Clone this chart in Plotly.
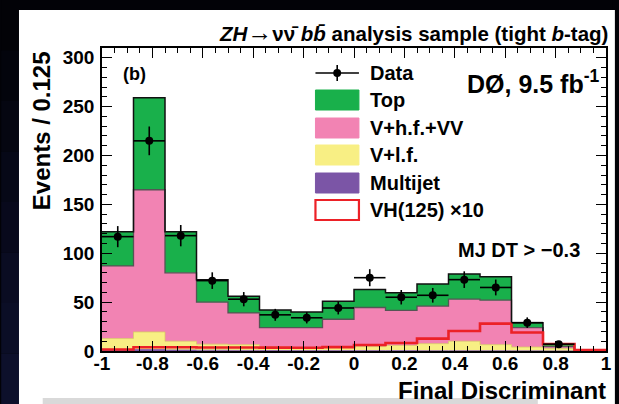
import numpy as np
import plotly.graph_objects as go

# ---- histogram content (events per 0.125 bin of the final discriminant) ----
bin_edges = [-1.0, -0.875, -0.75, -0.625, -0.5, -0.375, -0.25, -0.125, 0.0,
             0.125, 0.25, 0.375, 0.5, 0.625, 0.75, 0.875, 1.0]

multijet = [1.0, 1.5, 1.0, 0.8, 0.6, 0.5, 0.4, 0.4, 0.4, 0.4, 0.3, 0.3, 0.3, 0.2, 0.1, 0.0]
v_lf     = [11.7, 18.0, 9.0, 6.2, 5.9, 3.5, 3.1, 3.1, 4.1, 5.3, 7.2, 9.7, 6.2, 3.8, 2.4, 0.0]
v_hf_vv  = [74.3, 145.5, 70.0, 43.0, 32.5, 20.0, 20.5, 29.0, 40.0, 35.8, 38.5, 43.0, 45.5, 20.0, 2.0, 0.0]
top      = [35.0, 94.0, 42.0, 23.0, 17.0, 18.0, 15.9, 18.5, 18.5, 18.0, 22.5, 25.7, 24.0, 4.8, 2.5, 0.0]
vh125_x10 = [1.5, 3.8, 3.8, 3.6, 3.6, 3.5, 3.4, 4.0, 6.2, 8.2, 12.7, 20.5, 28.0, 19.0, 7.2, 1.0]

data_counts = [117, 215, 118, 72, 53, 37, 34, 44, 75, 55, 57, 73, 65, 29, 7]
data_errors = [10.8, 14.7, 10.9, 8.5, 7.3, 6.1, 5.8, 6.6, 8.7, 7.4, 7.5, 8.5, 8.1, 5.4, 2.6]

x_tickvals = [-1, -0.8, -0.6, -0.4, -0.2, 0, 0.2, 0.4, 0.6, 0.8, 1]
x_ticktext = ["-1", "-0.8", "-0.6", "-0.4", "-0.2", "0", "0.2", "0.4", "0.6", "0.8", "1"]
y_tickvals = [0, 50, 100, 150, 200, 250, 300]
y_ticktext = ["0", "50", "100", "150", "200", "250", "300"]

legend_labels = ["Data", "Top", "V+h.f.+VV", "V+l.f.", "Multijet", "VH(125) \u00d710"]

# ---- styling ----
FONT = "Liberation Sans, Arial, Helvetica, sans-serif"
C_TOP = "#19b04b"
C_HF = "#f283b3"
C_LF = "#f8ef84"
C_MJ = "#7b55a6"
C_SIG = "#ec2127"

W, H = 619, 404
ML, MR, MT, MB = 102, 7, 48, 53
PW, PH = W - ML - MR, H - MT - MB


def px(xp):
    return (xp - ML) / PW


def py(yp):
    return (H - MB - yp) / PH


edges = np.array(bin_edges)
centers = 0.5 * (edges[:-1] + edges[1:])
half_w = 0.5 * np.diff(edges)


def step_y(vals):
    v = list(vals)
    return v + [v[-1]]


# cumulative stack levels
lvl_mj = np.array(multijet)
lvl_lf = lvl_mj + np.array(v_lf)
lvl_hf = lvl_lf + np.array(v_hf_vv)
lvl_top = lvl_hf + np.array(top)

fig = go.Figure()

stack = [
    (lvl_mj, C_MJ, C_MJ, 0.8, "tozeroy"),
    (lvl_lf, C_LF, "#d8cc62", 0.8, "tonexty"),
    (lvl_hf, C_HF, "#555555", 1.3, "tonexty"),
    (lvl_top, C_TOP, "#111111", 1.5, "tonexty"),
]
for lvl, fc, lc, lw, fmode in stack:
    fig.add_trace(go.Scatter(
        x=edges, y=step_y(lvl), mode="lines", line=dict(shape="hv", color=lc, width=lw),
        fill=fmode, fillcolor=fc, showlegend=False, hoverinfo="skip"))

# signal (x10) drawn as an open histogram
fig.add_trace(go.Scatter(
    x=edges, y=step_y(vh125_x10), mode="lines",
    line=dict(shape="hv", color=C_SIG, width=2.6), showlegend=False, hoverinfo="skip"))

# data points with Poisson errors and bin-width horizontal bars
nd = len(data_counts)
fig.add_trace(go.Scatter(
    x=centers[:nd], y=data_counts, mode="markers",
    marker=dict(color="black", size=8),
    error_x=dict(type="data", array=half_w[:nd], color="black", thickness=1.6, width=0),
    error_y=dict(type="data", array=data_errors, color="black", thickness=1.6, width=0),
    showlegend=False, hoverinfo="skip"))

tickfont = dict(family=FONT, size=19, color="black", weight="bold")
fig.update_xaxes(
    range=[-1, 1], tickvals=x_tickvals, ticktext=x_ticktext, ticks="inside", ticklen=10,
    tickwidth=1.3, tickcolor="black", showline=True, linewidth=1.5, linecolor="black",
    mirror="ticks", showgrid=False, zeroline=False, tickfont=tickfont, ticklabelstandoff=-6,
    minor=dict(dtick=0.05, tick0=-1, ticks="inside", ticklen=5, tickwidth=1.1, tickcolor="black"))
fig.update_yaxes(
    range=[0, 310], tickvals=y_tickvals, ticktext=y_ticktext, ticks="inside", ticklen=10,
    tickwidth=1.3, tickcolor="black", showline=True, linewidth=1.5, linecolor="black",
    mirror="ticks", showgrid=False, zeroline=False, tickfont=tickfont, ticklabelstandoff=2,
    minor=dict(dtick=10, tick0=0, ticks="inside", ticklen=5, tickwidth=1.1, tickcolor="black"))

shapes = []
# dark surround fading toward navy on the left
shapes.append(dict(type="rect", xref="paper", yref="paper", x0=px(0), x1=px(W), y0=py(H), y1=py(0),
                   fillcolor="#020207", line_width=0, layer="below"))
bands = ["#020207", "#03040c", "#050611", "#060817", "#08091c", "#0a0c22", "#0b0e26", "#0d102b"]
bh = H / len(bands)
for i, c in enumerate(bands):
    shapes.append(dict(type="rect", xref="paper", yref="paper", x0=px(0), x1=px(18),
                       y0=py((i + 1) * bh), y1=py(i * bh), fillcolor=c, line_width=0, layer="below"))
# white page and grey strip at its foot
shapes.append(dict(type="rect", xref="paper", yref="paper", x0=px(18), x1=px(W + 2), y0=py(H + 2), y1=py(10),
                   fillcolor="white", line_width=0, layer="below"))
shapes.append(dict(type="rect", xref="paper", yref="paper", x0=px(42), x1=px(543), y0=py(H + 2), y1=py(398),
                   fillcolor="#d9d9d9", line_width=0, layer="below"))

annotations = []
# legend drawn inside the frame
row_y = [73, 100, 128, 155, 183, 210]
bx0, bx1 = 318, 362
shapes.append(dict(type="line", xref="paper", yref="paper", x0=px(bx0), x1=px(bx1),
                   y0=py(row_y[0]), y1=py(row_y[0]), line=dict(color="black", width=1.6)))
shapes.append(dict(type="line", xref="paper", yref="paper", x0=px(340), x1=px(340),
                   y0=py(row_y[0] - 8), y1=py(row_y[0] + 8), line=dict(color="black", width=1.6)))
shapes.append(dict(type="circle", xref="paper", yref="paper", x0=px(336), x1=px(344),
                   y0=py(row_y[0] + 4), y1=py(row_y[0] - 4), fillcolor="black", line_width=0))
box_styles = [(C_TOP, C_TOP, 1), (C_HF, C_HF, 1), (C_LF, C_LF, 1), (C_MJ, C_MJ, 1), ("white", C_SIG, 2.2)]
for (fc, lc, lw), yc in zip(box_styles, row_y[1:]):
    shapes.append(dict(type="rect", xref="paper", yref="paper", x0=px(bx0), x1=px(bx1),
                       y0=py(yc + 10), y1=py(yc - 10), fillcolor=fc, line=dict(color=lc, width=lw)))
for lab, yc in zip(legend_labels, row_y):
    annotations.append(dict(text=lab, xref="paper", yref="paper", x=px(371), y=py(yc),
                            xanchor="left", yanchor="middle", showarrow=False,
                            font=dict(family=FONT, size=20, color="black", weight="bold")))

# titles and labels
annotations.append(dict(
    text=("<i>ZH</i><span style='font-size:25px;font-weight:normal'>\u2192</span>\u03bd\u03bd\u0304 "
          "<i>b</i><i>b\u0304</i> analysis sample (tight <i>b</i>-tag)"),
    xref="paper", yref="paper", x=px(616), y=py(32), xanchor="right", yanchor="middle",
    showarrow=False, font=dict(family=FONT, size=20.5, color="black", weight="bold")))
annotations.append(dict(
    text="D\u00d8, 9.5 fb<sup>-1</sup>", xref="paper", yref="paper", x=px(608), y=py(82),
    xanchor="right", yanchor="middle", showarrow=False,
    font=dict(family=FONT, size=25, color="black", weight="bold")))
annotations.append(dict(
    text="(b)", xref="paper", yref="paper", x=px(121), y=py(74), xanchor="left", yanchor="middle",
    showarrow=False, font=dict(family=FONT, size=18, color="black", weight="bold")))
annotations.append(dict(
    text="MJ DT > \u22120.3", xref="paper", yref="paper", x=px(588), y=py(250), xanchor="right",
    yanchor="middle", showarrow=False, font=dict(family=FONT, size=20, color="black", weight="bold")))
annotations.append(dict(
    text="Events / 0.125", xref="paper", yref="paper", x=px(41), y=py(49), xanchor="center",
    yanchor="top", textangle=-90, showarrow=False,
    font=dict(family=FONT, size=24, color="black", weight="bold")))
annotations.append(dict(
    text="Final Discriminant", xref="paper", yref="paper", x=px(614), y=py(390), xanchor="right",
    yanchor="middle", showarrow=False, font=dict(family=FONT, size=24, color="black", weight="bold")))

fig.update_layout(
    width=W, height=H, autosize=False,
    margin=dict(l=ML, r=MR, t=MT, b=MB, pad=0),
    paper_bgcolor="#020207", plot_bgcolor="white",
    shapes=shapes, annotations=annotations, showlegend=False)

fig.write_html("out.html")
